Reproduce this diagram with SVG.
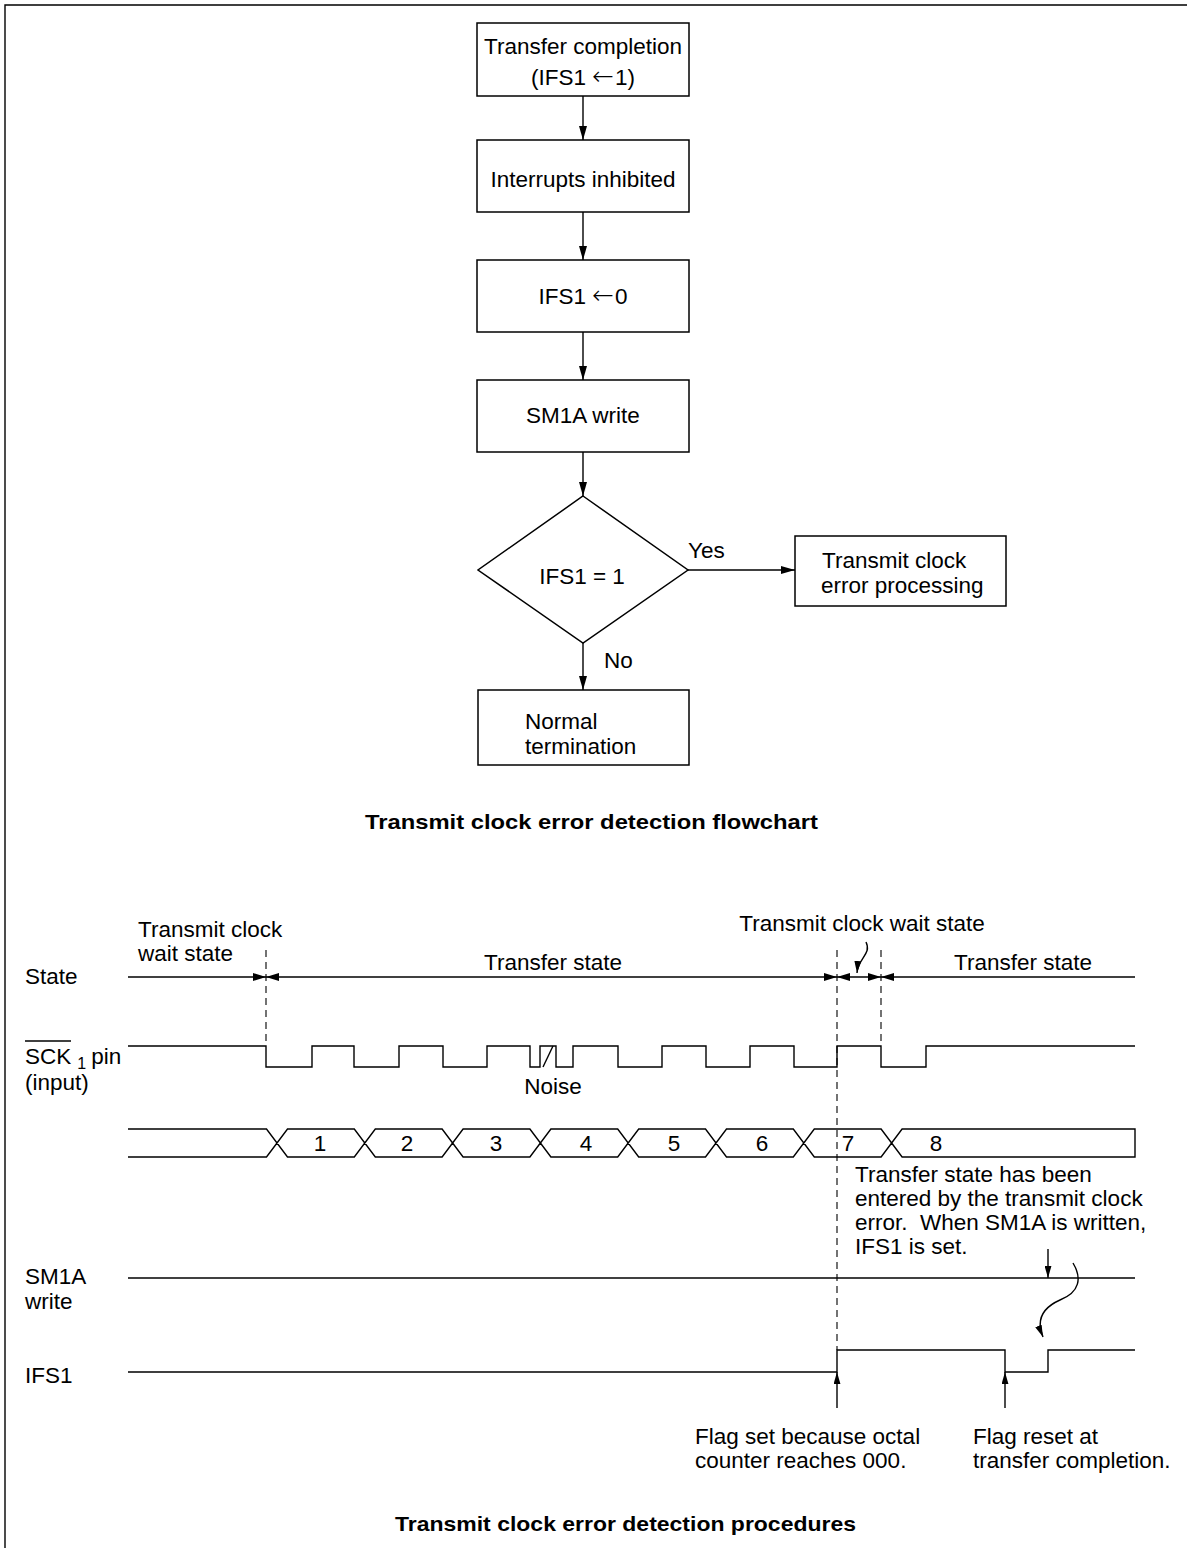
<svg xmlns="http://www.w3.org/2000/svg" width="1187" height="1548" viewBox="0 0 1187 1548">
<style>
text{font-family:"Liberation Sans",Arial,sans-serif;font-size:22.5px;fill:#000}
.t{font-weight:bold;font-size:21px}
.c{text-anchor:middle}
.ar{font-family:"DejaVu Sans",sans-serif;font-size:26px;font-weight:200}
.box{fill:#fff;stroke:#000;stroke-width:1.5}
.ln{fill:none;stroke:#000;stroke-width:1.4}
.dash{fill:none;stroke:#000;stroke-width:1.1;stroke-dasharray:7,5}
.ah{fill:#000}
</style>
<defs>
<marker id="arr" viewBox="0 0 14 8" refX="14" refY="4" markerWidth="14" markerHeight="8" markerUnits="userSpaceOnUse" orient="auto"><path d="M0,0 L14,4 L0,8 Z" fill="#000"/></marker>
<marker id="arrs" viewBox="0 0 14 8" refX="14" refY="4" markerWidth="12" markerHeight="7" markerUnits="userSpaceOnUse" orient="auto"><path d="M0,0 L14,4 L0,8 Z" fill="#000"/></marker>
</defs>
<rect width="1187" height="1548" fill="#fff"/>
<path d="M5,1548 V5 H1187" class="ln" stroke-width="2"/>

<g id="n1"><rect class="box" x="477" y="23" width="212" height="73"/><text class="c" x="583" y="54">Transfer completion</text><text class="c" x="583" y="85">(IFS1 <tspan class="ar">←</tspan><tspan dx="1">1)</tspan></text></g>
<g id="n2"><rect class="box" x="477" y="140" width="212" height="72"/><text class="c" x="583" y="187">Interrupts inhibited</text></g>
<g id="n3"><rect class="box" x="477" y="260" width="212" height="72"/><text class="c" x="583" y="304">IFS1 <tspan class="ar">←</tspan><tspan dx="1">0</tspan></text></g>
<g id="n4"><rect class="box" x="477" y="380" width="212" height="72"/><text class="c" x="583" y="423">SM1A write</text></g>
<g id="n5"><path class="box" d="M583,496 L688,570 L583,643 L478,570 Z"/><text class="c" x="582" y="584">IFS1 = 1</text></g>
<g id="n6"><rect class="box" x="795" y="536" width="211" height="70"/><text x="822" y="568">Transmit clock</text><text x="821" y="593">error processing</text></g>
<g id="n7"><rect class="box" x="478" y="690" width="211" height="75"/><text x="525" y="729">Normal</text><text x="525" y="754">termination</text></g>
<g id="labels"><text x="688" y="558">Yes</text><text x="604" y="668">No</text>
<text class="t" x="365" y="829" textLength="453" lengthAdjust="spacingAndGlyphs">Transmit clock error detection flowchart</text></g>

<g id="connectors">
<path class="ln" d="M583,96 V140" marker-end="url(#arr)"/>
<path class="ln" d="M583,212 V260" marker-end="url(#arr)"/>
<path class="ln" d="M583,332 V380" marker-end="url(#arr)"/>
<path class="ln" d="M583,452 V496" marker-end="url(#arr)"/>
<path class="ln" d="M583,643 V690" marker-end="url(#arr)"/>
<path class="ln" d="M688,570 H795" marker-end="url(#arr)"/>
</g>

<g id="timing">
<text x="138" y="937">Transmit clock</text><text x="138" y="961">wait state</text>
<text x="25" y="984">State</text>
<text class="c" x="553" y="970">Transfer state</text>
<text class="c" x="862" y="931">Transmit clock wait state</text>
<text class="c" x="1023" y="970">Transfer state</text>
<path class="ln" d="M128,977 H1135"/>
<path class="dash" d="M266,950 V1046 M837,950 V1350 M881,950 V1046"/>
<g class="ah">
<path d="M266,977 l-13,-4 v8 Z"/><path d="M266,977 l13,-4 v8 Z"/>
<path d="M837,977 l-13,-4 v8 Z"/><path d="M837,977 l13,-4 v8 Z"/>
<path d="M881,977 l-13,-4 v8 Z"/><path d="M881,977 l13,-4 v8 Z"/>
</g>
<path class="ln" d="M866,942 C872,954 858,958 857,973" marker-end="url(#arrs)"/>

<text x="25" y="1064">SCK<tspan font-size="16" dy="5" dx="6">1</tspan><tspan dy="-5" dx="5">pin</tspan></text>
<path class="ln" d="M25,1041 H71" stroke-width="1.2"/>
<text x="25" y="1090">(input)</text>
<path class="ln" d="M128,1046 H266 V1067 H312 V1046 H354 V1067 H399 V1046 H443 V1067 H487 V1046 H530 V1067 H540 V1046 H556 V1067 H573 V1046 H618 V1067 H662 V1046 H706 V1067 H750 V1046 H794 V1067 H837 V1046 H881 V1067 H926 V1046 H1135"/>
<path class="ln" d="M543,1067 L553,1046" stroke-width="1.1"/>
<text class="c" x="553" y="1094">Noise</text>

<path class="ln" d="M128,1129 H266.5 L287.5,1157 H354.3 L375.3,1129 H442.1 L463.1,1157 H529.9 L550.9,1129 H617.7 L638.7,1157 H705.5 L726.5,1129 H793.3 L814.3,1157 H881.1 L902.1,1129 H1135 V1157 H902.1 L881.1,1129 H814.3 L793.3,1157 H726.5 L705.5,1129 H638.7 L617.7,1157 H550.9 L529.9,1129 H463.1 L442.1,1157 H375.3 L354.3,1129 H287.5 L266.5,1157 H128"/>
<text class="c" x="320" y="1151">1</text><text class="c" x="407" y="1151">2</text><text class="c" x="496" y="1151">3</text><text class="c" x="586" y="1151">4</text><text class="c" x="674" y="1151">5</text><text class="c" x="762" y="1151">6</text><text class="c" x="848" y="1151">7</text><text class="c" x="936" y="1151">8</text>

<text x="855" y="1182">Transfer state has been</text>
<text x="855" y="1206">entered by the transmit clock</text>
<text x="855" y="1230">error.&#160; When SM1A is written,</text>
<text x="855" y="1254">IFS1 is set.</text>
<path class="ln" d="M1048,1249 V1278" marker-end="url(#arrs)"/>
<path class="ln" d="M1073,1263 C1082,1278 1080,1292 1060,1300 C1042,1308 1036,1320 1043,1337" marker-end="url(#arrs)"/>

<text x="25" y="1284">SM1A</text><text x="25" y="1309">write</text>
<path class="ln" d="M128,1278 H1135"/>
<text x="25" y="1383">IFS1</text>
<path class="ln" d="M128,1372 H837 V1350 H1005 V1372 H1048 V1350 H1135"/>
<path class="ln" d="M837,1408 V1372" marker-end="url(#arrs)"/>
<path class="ln" d="M1005,1408 V1372" marker-end="url(#arrs)"/>
<text x="695" y="1444">Flag set because octal</text><text x="695" y="1468">counter reaches 000.</text>
<text x="973" y="1444">Flag reset at</text><text x="973" y="1468">transfer completion.</text>
<text class="t" x="395" y="1531" textLength="461" lengthAdjust="spacingAndGlyphs">Transmit clock error detection procedures</text>
</g>
</svg>
